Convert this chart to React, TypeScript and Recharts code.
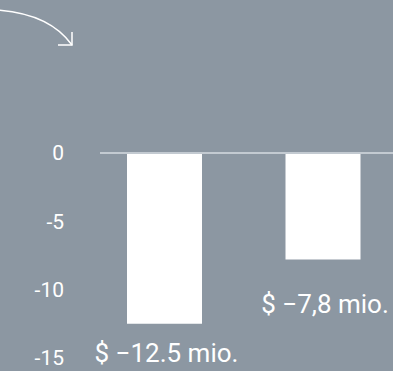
import React from "react";
import { ComposedChart, Bar, XAxis, YAxis, ReferenceLine, LabelList, Customized } from "recharts";

const categories = ["Periode 1", "Periode 2"];
const values = [-12.5, -7.8];
const valueLabels = ["$ −12.5 mio.", "$ −7,8 mio."];
const yTicks = [0, -5, -10, -15];

const data = categories.map((c, i) => ({ name: c, value: values[i], label: valueLabels[i] }));

const BG = "#8c97a2";
const FONT = "Roboto, 'Noto Sans', sans-serif";
const labelGaps = [38, 53];

const BarLabel = (props: any) => {
  const { x, y, width, height, index } = props;
  const bottom = Math.max(y, y + height);
  return (
    <text
      x={x + width / 2 + 2}
      y={bottom + labelGaps[index]}
      textAnchor="middle"
      fill="#ffffff"
      fontSize={26}
      fontFamily={FONT}
    >
      {valueLabels[index]}
    </text>
  );
};

const Arrow = () => (
  <g fill="none" stroke="#ffffff" strokeWidth={1.5}>
    <path d="M -2 10 Q 50 14 72 45" />
    <path d="M 72 32 L 72 45 L 58 45" />
  </g>
);

export default function App() {
  return (
    <div style={{ position: "absolute", left: 0, top: 0, width: 393, height: 371, background: BG }}>
      <style>{"html,body{margin:0;padding:0;background:" + BG + ";overflow:hidden}"}</style>
      <ComposedChart
        width={393}
        height={371}
        data={data}
        margin={{ top: 153, right: 0, bottom: 13, left: 0 }}
        style={{ background: BG }}
      >
        <XAxis dataKey="name" hide padding={{ left: -15, right: -9 }} />
        <YAxis
          width={100}
          domain={[-15, 0]}
          ticks={yTicks}
          axisLine={false}
          tickLine={false}
          tickSize={0}
          tickMargin={36}
          interval={0}
          tick={{ fill: "#ffffff", fontSize: 21, fontFamily: FONT }}
        />
        <ReferenceLine y={0} stroke="#c3cad1" strokeWidth={2} />
        <Bar dataKey="value" fill="#ffffff" barSize={75} isAnimationActive={false}>
          <LabelList dataKey="label" content={BarLabel} />
        </Bar>
        <Customized component={Arrow} />
      </ComposedChart>
    </div>
  );
}
